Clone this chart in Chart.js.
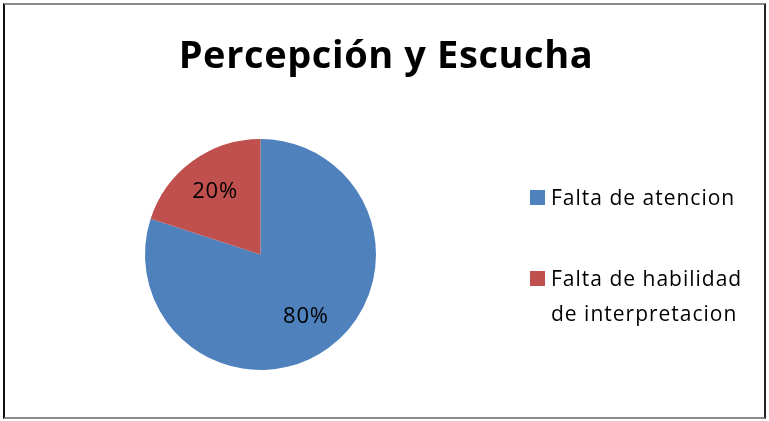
<!DOCTYPE html>
<html><head><meta charset="utf-8">
<script src="https://cdn.jsdelivr.net/npm/chart.js@4"></script>
<style>
html,body{margin:0;padding:0;background:#fff;}
#wrap{position:absolute;left:0;top:0;width:769px;height:421px;}
#frame{position:absolute;left:3px;top:3px;width:759px;height:412px;border-left:2px solid #111;border-top:2px solid #8a8a8a;border-right:2px solid #222;border-bottom:2px solid #8a8a8a;pointer-events:none;}
canvas{position:absolute;left:0;top:0;}
</style></head>
<body><div id="wrap"><canvas id="c" width="769" height="421"></canvas><div id="frame"></div></div>
<script>
const title = 'Percepción y Escucha';
const categories = ['Falta de atencion', 'Falta de habilidad de interpretacion'];
const values = [80, 20];
const colors = ['#4F81BD', '#C0504D'];

const FONT = '"Open Sans", "Noto Sans", sans-serif';

const deco = {
  id: 'deco',
  afterDraw(chart) {
    const ctx = chart.ctx;
    ctx.save();
    // title
    ctx.fillStyle = '#000';
    ctx.font = 'bold 38px ' + FONT;
    ctx.letterSpacing = '0.6px';
    ctx.textAlign = 'center';
    ctx.textBaseline = 'alphabetic';
    ctx.fillText(title, 386, 68);
    // labels
    const meta = chart.getDatasetMeta(0);
    const total = values.reduce((a, b) => a + b, 0);
    ctx.font = '22px ' + FONT;
    ctx.letterSpacing = '0.8px';
    ctx.textBaseline = 'middle';
    meta.data.forEach((arc, i) => {
      const p = arc.getProps(['x','y','startAngle','endAngle','outerRadius'], true);
      const mid = (p.startAngle + p.endAngle) / 2;
      const r = p.outerRadius * 0.67;
      ctx.fillStyle = '#000';
      ctx.fillText(Math.round(values[i] / total * 100) + '%', p.x + Math.cos(mid) * r, p.y + Math.sin(mid) * r);
    });
    // legend
    ctx.font = '21px ' + FONT;
    ctx.letterSpacing = '1px';
    ctx.textAlign = 'left';
    ctx.textBaseline = 'alphabetic';
    const baselines = [205, 286];
    const lineGap = 35;
    categories.forEach((cat, i) => {
      const words = cat.split(' ');
      const lines = [];
      let cur = '';
      words.forEach(w => {
        const t = cur ? cur + ' ' + w : w;
        if (ctx.measureText(t).width > 212 && cur) { lines.push(cur); cur = w; } else cur = t;
      });
      lines.push(cur);
      const b = baselines[i];
      ctx.fillStyle = colors[i];
      ctx.fillRect(530, b - 15, 15, 15);
      ctx.fillStyle = '#000';
      lines.forEach((ln, j) => ctx.fillText(ln, 551, b + j * lineGap));
    });
    ctx.restore();
  }
};

new Chart(document.getElementById('c'), {
  type: 'pie',
  data: { labels: categories, datasets: [{ data: values, backgroundColor: colors, borderWidth: 0 }] },
  options: {
    responsive: false,
    animation: false,
    layout: { padding: { left: 145, top: 139, right: 393, bottom: 51 } },
    plugins: { legend: { display: false }, title: { display: false }, tooltip: { enabled: false } }
  },
  plugins: [deco]
});
</script>
</body></html>
